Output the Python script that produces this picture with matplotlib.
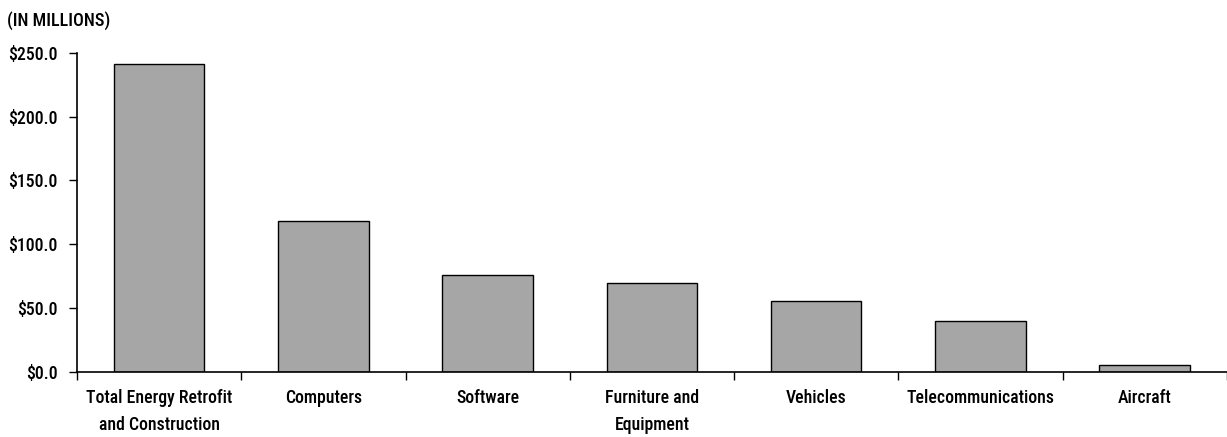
import matplotlib.pyplot as plt
import numpy as np
from matplotlib.ticker import FixedLocator

plt.rcParams['font.family'] = ['DejaVu Sans Condensed', 'Roboto Condensed',
                               'Liberation Sans Narrow', 'Open Sans Condensed',
                               'DejaVu Sans']
plt.rcParams['font.weight'] = 'medium'

categories = ['Total Energy Retrofit\nand Construction', 'Computers', 'Software',
              'Furniture and\nEquipment', 'Vehicles', 'Telecommunications', 'Aircraft']
values = [241.0, 118.5, 76.0, 70.0, 55.5, 39.5, 5.5]
yticks = [0, 50, 100, 150, 200, 250]

fig = plt.figure(figsize=(12.27, 4.37), dpi=100)
ax = fig.add_axes([0.0628, 0.149, 0.937, 0.730])

x = np.arange(len(categories))
ax.bar(x, values, width=0.55, color='#a6a6a6', edgecolor='black', linewidth=1)

ax.set_xlim(-0.5, len(categories) - 0.5)
ax.set_ylim(0, 250)
ax.set_yticks(yticks)
ax.set_yticklabels(['${:.1f}'.format(v) for v in yticks], fontsize=12.8)

# boundary ticks, labels at centers
ax.xaxis.set_major_locator(FixedLocator(np.arange(len(categories) + 1) - 0.5))
ax.set_xticklabels([''] * (len(categories) + 1))
ax.xaxis.set_minor_locator(FixedLocator(x))
ax.set_xticklabels(categories, minor=True, fontsize=12.8, linespacing=1.7)
ax.tick_params(axis='x', which='minor', length=0, pad=12)
ax.tick_params(axis='x', which='major', length=6, width=1, direction='out')
ax.tick_params(axis='y', length=6, width=1, pad=8)

for s in ['top', 'right']:
    ax.spines[s].set_visible(False)
for s in ['left', 'bottom']:
    ax.spines[s].set_linewidth(1.2)

fig.text(0.006, 0.952, '(IN MILLIONS)', fontsize=13, va='center', ha='left')

fig.savefig('out.png', dpi=100)
